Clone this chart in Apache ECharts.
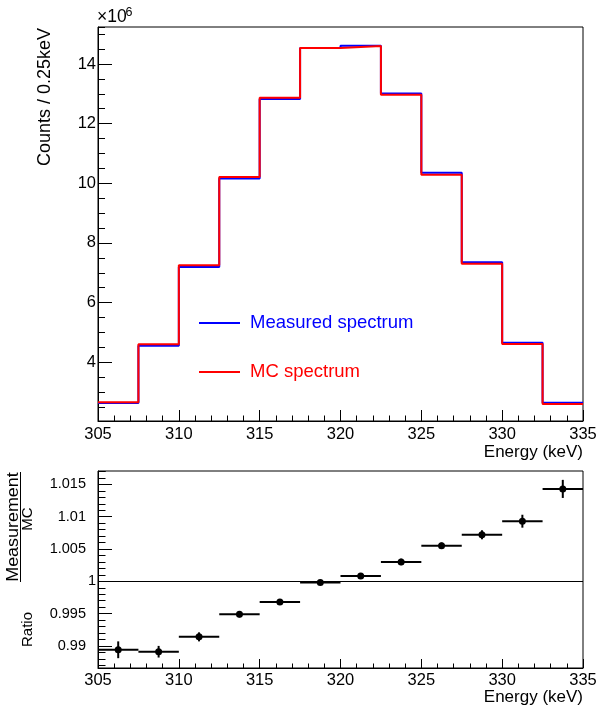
<!DOCTYPE html>
<html>
<head>
<meta charset="utf-8">
<script src="https://cdn.jsdelivr.net/npm/echarts@6/dist/echarts.min.js"></script>
<style>
html, body { margin: 0; padding: 0; background: #fff; }
#chart { width: 597px; height: 709px; }
</style>
</head>
<body>
<div id="chart"></div>
<script>
// bin edges in keV, 0.25 keV counts given in units of 10^6
const binEdges = [305, 307.5, 310, 312.5, 315, 317.5, 320, 322.5, 325, 327.5, 330, 332.5, 335];
const measured = [2.63, 4.55, 7.19, 10.16, 12.83, 14.54, 14.61, 13.01, 10.35, 7.35, 4.65, 2.64];
const mcSpectrum = [2.66, 4.60, 7.25, 10.21, 12.87, 14.54, 14.60, 12.97, 10.29, 7.30, 4.61, 2.60];
// measurement / MC
const ratio = [0.9894, 0.9891, 0.9914, 0.9949, 0.9968, 0.9998, 1.0008, 1.0030, 1.0055, 1.0072, 1.0093, 1.0143];
const ratioErr = [0.0013, 0.0009, 0.0007, 0.0005, 0.0003, 0.0003, 0.0003, 0.0005, 0.0005, 0.0007, 0.0010, 0.0014];

const FONT = '"Liberation Sans", Arial, Helvetica, sans-serif';

const stepData = (vals) => {
    const d = vals.map((v, i) => [binEdges[i], v]);
    d.push([binEdges[binEdges.length - 1], vals[vals.length - 1]]);
    return d;
};

const ratioData = ratio.map((r, i) => [
    (binEdges[i] + binEdges[i + 1]) / 2, r, ratioErr[i], binEdges[i], binEdges[i + 1]
]);

const fmtRatio = (v) => {
    const s = String(+v.toFixed(4));
    return s === '1' ? s : '{p|' + s + '}';
};

const xAxisBase = (grid, labelMargin, majorLen, minorLen) => ({
    type: 'value',
    gridIndex: grid,
    position: 'bottom',
    min: 305,
    max: 335,
    interval: 5,
    axisLine: { lineStyle: { color: '#000', width: 1 } },
    axisTick: { inside: true, length: majorLen, lineStyle: { color: '#000' } },
    minorTick: { show: true, splitNumber: 5, length: minorLen, lineStyle: { color: '#000' } },
    splitLine: { show: false },
    axisLabel: { color: '#000', fontSize: 16.5, fontFamily: FONT, margin: labelMargin }
});

const myChart = echarts.init(document.getElementById('chart'));

const option = {
    animation: false,
    backgroundColor: '#fff',
    grid: [
        { left: 98, top: 27, width: 485, height: 394, show: true, borderColor: '#000', borderWidth: 1, outerBoundsMode: 'none' },
        { left: 98, top: 471, width: 485, height: 197, show: true, borderColor: '#000', borderWidth: 1, outerBoundsMode: 'none' }
    ],
    legend: {
        orient: 'vertical',
        left: 199,
        top: 313.5,
        padding: 0,
        itemWidth: 41,
        itemHeight: 2,
        itemGap: 30,
        icon: 'rect',
        textStyle: { fontSize: 18.5, fontFamily: FONT, padding: [0, 0, 0, 5] },
        data: [
            { name: 'Measured spectrum', textStyle: { color: '#0000ff' } },
            { name: 'MC spectrum', textStyle: { color: '#ff0000' } }
        ]
    },
    xAxis: [
        xAxisBase(0, 5, 11, 5.5),
        xAxisBase(1, 4, 9, 4.5)
    ],
    yAxis: [
        {
            type: 'value',
            gridIndex: 0,
            position: 'left',
            min: 2.03,
            max: 15.24,
            minInterval: 2,
            maxInterval: 2,
            axisLine: { show: true, lineStyle: { color: '#000' } },
            axisTick: { inside: true, length: 14, lineStyle: { color: '#000' } },
            splitLine: { show: false },
            axisLabel: { color: '#000', fontSize: 16.5, fontFamily: FONT, margin: 2, showMinLabel: false, showMaxLabel: false }
        },
        {
            // minor ticks every 0.5
            type: 'value',
            gridIndex: 0,
            position: 'left',
            offset: 0,
            min: 2.03,
            max: 15.24,
            minInterval: 0.5,
            maxInterval: 0.5,
            axisLine: { show: false },
            axisTick: { inside: true, length: 7, lineStyle: { color: '#000' } },
            splitLine: { show: false },
            axisLabel: { show: false }
        },
        {
            type: 'value',
            gridIndex: 1,
            position: 'left',
            min: 0.98658,
            max: 1.01707,
            minInterval: 0.005,
            maxInterval: 0.005,
            axisLine: { show: true, lineStyle: { color: '#000' } },
            axisTick: { inside: true, length: 14, lineStyle: { color: '#000' } },
            splitLine: { show: false },
            axisLabel: {
                color: '#000', fontSize: 14.5, fontFamily: FONT, margin: 2,
                showMinLabel: false, showMaxLabel: false,
                formatter: fmtRatio,
                rich: { p: { fontSize: 14.5, fontFamily: FONT, color: '#000', padding: [0, 10, 0, 0] } }
            }
        },
        {
            // minor ticks every 0.001
            type: 'value',
            gridIndex: 1,
            position: 'left',
            offset: 0,
            min: 0.98658,
            max: 1.01707,
            minInterval: 0.001,
            maxInterval: 0.001,
            axisLine: { show: false },
            axisTick: { inside: true, length: 7.5, lineStyle: { color: '#000' } },
            splitLine: { show: false },
            axisLabel: { show: false }
        }
    ],
    series: [
        {
            name: 'Measured spectrum',
            type: 'line',
            xAxisIndex: 0,
            yAxisIndex: 0,
            step: 'end',
            showSymbol: false,
            symbol: 'none',
            color: '#0000ff',
            lineStyle: { width: 2, color: '#0000ff' },
            data: stepData(measured)
        },
        {
            name: 'MC spectrum',
            type: 'line',
            xAxisIndex: 0,
            yAxisIndex: 0,
            step: 'end',
            showSymbol: false,
            symbol: 'none',
            color: '#ff0000',
            lineStyle: { width: 2, color: '#ff0000' },
            data: stepData(mcSpectrum)
        },
        {
            name: 'Ratio',
            type: 'custom',
            xAxisIndex: 1,
            yAxisIndex: 2,
            renderItem: (params, api) => {
                const x = api.value(0), y = api.value(1), e = api.value(2);
                const pLo = api.coord([api.value(3), y]);
                const pHi = api.coord([api.value(4), y]);
                const top = api.coord([x, y + e]);
                const bot = api.coord([x, y - e]);
                const c = api.coord([x, y]);
                return {
                    type: 'group',
                    children: [
                        { type: 'line', shape: { x1: pLo[0], y1: c[1], x2: pHi[0], y2: c[1] }, style: { stroke: '#000', lineWidth: 2 } },
                        { type: 'line', shape: { x1: c[0], y1: top[1], x2: c[0], y2: bot[1] }, style: { stroke: '#000', lineWidth: 2 } },
                        { type: 'circle', shape: { cx: c[0], cy: c[1], r: 3.5 }, style: { fill: '#000' } }
                    ]
                };
            },
            markLine: {
                silent: true,
                symbol: 'none',
                label: { show: false },
                lineStyle: { color: '#000', width: 1, type: 'solid' },
                data: [{ yAxis: 1 }]
            },
            data: ratioData
        }
    ],
    graphic: [
        { type: 'text', x: 97, y: 26, style: { text: '\u00d710', fontSize: 17.5, fontFamily: FONT, fill: '#000', verticalAlign: 'bottom' } },
        { type: 'text', x: 125.5, y: 19, style: { text: '6', fontSize: 12.5, fontFamily: FONT, fill: '#000', verticalAlign: 'bottom' } },
        { type: 'text', x: 45, y: 28, rotation: Math.PI / 2, style: { text: 'Counts / 0.25keV', fontSize: 18, fontFamily: FONT, fill: '#000', align: 'right', verticalAlign: 'middle' } },
        { type: 'text', x: 583, y: 452, style: { text: 'Energy (keV)', fontSize: 17, fontFamily: FONT, fill: '#000', align: 'right', verticalAlign: 'middle' } },
        { type: 'text', x: 583, y: 697, style: { text: 'Energy (keV)', fontSize: 17, fontFamily: FONT, fill: '#000', align: 'right', verticalAlign: 'middle' } },
        { type: 'text', x: 28, y: 612, rotation: Math.PI / 2, style: { text: 'Ratio', fontSize: 15, fontFamily: FONT, fill: '#000', align: 'right', verticalAlign: 'middle' } },
        { type: 'text', x: 13.5, y: 527, rotation: Math.PI / 2, scaleX: 1.12, style: { text: 'Measurement', fontSize: 16, fontFamily: FONT, fill: '#000', align: 'center', verticalAlign: 'middle' } },
        { type: 'line', shape: { x1: 20.5, y1: 472, x2: 20.5, y2: 582 }, style: { stroke: '#000', lineWidth: 1 } },
        { type: 'text', x: 28, y: 519, rotation: Math.PI / 2, style: { text: 'MC', fontSize: 15, fontFamily: FONT, fill: '#000', align: 'center', verticalAlign: 'middle' } }
    ]
};

myChart.setOption(option);
</script>
</body>
</html>
